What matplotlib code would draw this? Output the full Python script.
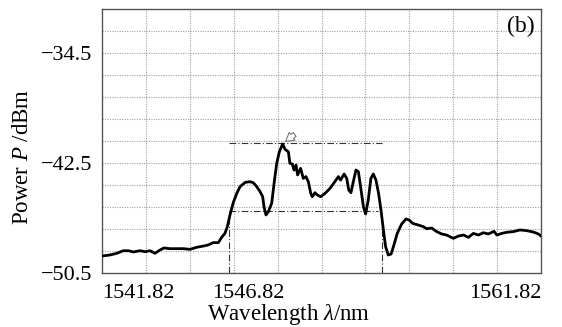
import matplotlib
matplotlib.use("Agg")
import matplotlib.pyplot as plt
import matplotlib.transforms as mtransforms
import numpy as np

# ---- data ----
wavelength = [1541.85, 1542.18, 1542.49, 1542.79, 1543.02, 1543.25, 1543.55, 1543.78, 1544.01, 1544.23,
              1544.46, 1544.64, 1544.92, 1545.22, 1545.53, 1545.83, 1546.13, 1546.44, 1546.66, 1546.89,
              1547.12, 1547.27, 1547.42, 1547.53, 1547.65, 1547.80, 1547.96, 1548.11, 1548.34, 1548.56,
              1548.71, 1548.87, 1549.02, 1549.14, 1549.20, 1549.29, 1549.40, 1549.55, 1549.66, 1549.78,
              1549.90, 1550.05, 1550.16, 1550.31, 1550.38, 1550.49, 1550.57, 1550.66, 1550.73, 1550.87,
              1550.99, 1551.11, 1551.22, 1551.33, 1551.40, 1551.52, 1551.63, 1551.78, 1551.98, 1552.21,
              1552.48, 1552.59, 1552.69, 1552.85, 1552.97, 1553.06, 1553.16, 1553.27, 1553.39, 1553.50,
              1553.60, 1553.73, 1553.83, 1553.95, 1554.07, 1554.18, 1554.30, 1554.42, 1554.53, 1554.64,
              1554.74, 1554.86, 1554.99, 1555.12, 1555.27, 1555.47, 1555.67, 1555.82, 1555.97, 1556.23,
              1556.46, 1556.61, 1556.84, 1557.07, 1557.29, 1557.52, 1557.83, 1558.06, 1558.29, 1558.51,
              1558.74, 1558.97, 1559.19, 1559.42, 1559.68, 1559.81, 1560.03, 1560.26, 1560.56, 1560.86,
              1561.17, 1561.47, 1561.70, 1561.82]
power = [-49.26, -49.19, -49.07, -48.88, -48.88, -48.97, -48.88, -48.95, -48.88, -49.07,
         -48.83, -48.68, -48.73, -48.73, -48.73, -48.78, -48.63, -48.54, -48.46, -48.29,
         -48.29, -47.91, -47.62, -47.13, -46.28, -45.38, -44.71, -44.22, -43.91, -43.86,
         -43.93, -44.22, -44.58, -44.95, -45.68, -46.28, -46.04, -45.43, -43.98, -42.52,
         -41.68, -41.12, -41.51, -41.68, -42.52, -42.57, -43.01, -42.65, -43.37, -42.89,
         -43.62, -43.49, -43.86, -44.71, -44.95, -44.66, -44.83, -44.95, -44.71, -44.34,
         -43.74, -43.49, -43.74, -43.30, -43.62, -44.46, -44.66, -43.86, -43.01, -43.13,
         -44.22, -45.68, -46.21, -45.19, -43.62, -43.30, -43.74, -44.71, -45.92, -47.37,
         -48.58, -49.19, -49.12, -48.46, -47.62, -46.94, -46.57, -46.65, -46.89, -47.01,
         -47.13, -47.28, -47.23, -47.49, -47.66, -47.74, -47.98, -47.81, -47.74, -47.91,
         -47.62, -47.74, -47.57, -47.66, -47.47, -47.74, -47.62, -47.54, -47.49, -47.37,
         -47.42, -47.52, -47.66, -47.81]

# reference (dash-dot) markers
peak_level = -41.02
low_level = -46.0
left_edge = 1547.62
right_edge = 1554.59
right_edge_top = -47.4
ref_line_end = 1554.56
low_line_end = 1554.41

xtick_values = [1541.82, 1546.82, 1561.82]
xtick_labels = ["1541.82", "1546.82", "1561.82"]
ytick_values = [-50.5, -42.5, -34.5]
ytick_labels = ["\u221250.5", "\u221242.5", "\u221234.5"]

xmin, xmax = 1541.82, 1561.82
ymin, ymax = -50.5, -31.3

# ---- style ----
plt.rcParams['font.family'] = ['Liberation Serif', 'DejaVu Serif']
plt.rcParams['mathtext.fontset'] = 'custom'
plt.rcParams['mathtext.rm'] = 'Liberation Serif'
plt.rcParams['mathtext.it'] = 'Liberation Serif:italic'

fig = plt.figure(figsize=(5.62, 3.27), dpi=100)
ax = fig.add_axes([102/562, 1 - 273/327, 439/562, 264/327])

ax.set_xlim(xmin, xmax)
ax.set_ylim(ymin, ymax)

# grid
for gx in np.linspace(xmin, xmax, 11)[1:-1]:
    ax.axvline(gx, color='#a0a0a0', lw=0.8, ls=(0, (1, 1.2)), zorder=1)
for gy in np.linspace(ymin, ymax, 13)[1:-1]:
    ax.axhline(gy, color='#a0a0a0', lw=0.8, ls=(0, (1, 1.2)), zorder=1)

# reference lines
dashdot = (0, (6, 2, 1, 2))
ax.plot([left_edge, ref_line_end], [peak_level, peak_level], color='#333333', lw=0.8, ls=dashdot, zorder=2)
ax.plot([left_edge, low_line_end], [low_level, low_level], color='#333333', lw=0.8, ls=dashdot, zorder=2)
ax.plot([left_edge, left_edge], [ymin, low_level], color='#333333', lw=0.8, ls=dashdot, zorder=2)
ax.plot([right_edge, right_edge], [ymin, right_edge_top], color='#333333', lw=0.8, ls=dashdot, zorder=2)

# trace
ax.plot(wavelength, power, color='black', lw=2.0, zorder=3, solid_joinstyle='round')

# hollow arrow at peak
ax.annotate("", xy=(1550.08, -41.05), xytext=(1550.7, -40.3),
            arrowprops=dict(arrowstyle='simple,head_length=0.6,head_width=0.7,tail_width=0.35',
                            fc='white', ec='#666666', lw=0.7), zorder=4)

# ticks
ax.set_xticks(xtick_values)
ax.set_xticklabels(xtick_labels, fontsize=16)
ax.set_yticks(ytick_values)
ax.set_yticklabels(ytick_labels, fontsize=16)
ax.tick_params(axis='x', length=0, pad=8)
ax.tick_params(axis='y', length=0, pad=7)
xl = ax.get_xticklabels()
xl[0].set_ha('left')
xl[2].set_ha('right')
xl[1].set_transform(xl[1].get_transform() + mtransforms.ScaledTranslation(37/100, 0, fig.dpi_scale_trans))

for s in ax.spines.values():
    s.set_color('#555555')
    s.set_linewidth(1.0)

ax.set_xlabel("Wavelength $\\lambda$/nm", fontsize=16.5)
ax.xaxis.set_label_coords((289 - 102) / 439, (273 - 302) / 264)
ax.set_ylabel("Power $P$ /dBm", fontsize=16.5)
ax.yaxis.set_label_coords((33 - 102) / 439, (273 - 157) / 264)

ax.text(0.985, 0.975, "(b)", transform=ax.transAxes, ha='right', va='top', fontsize=17)

fig.savefig("out.png", dpi=100)
